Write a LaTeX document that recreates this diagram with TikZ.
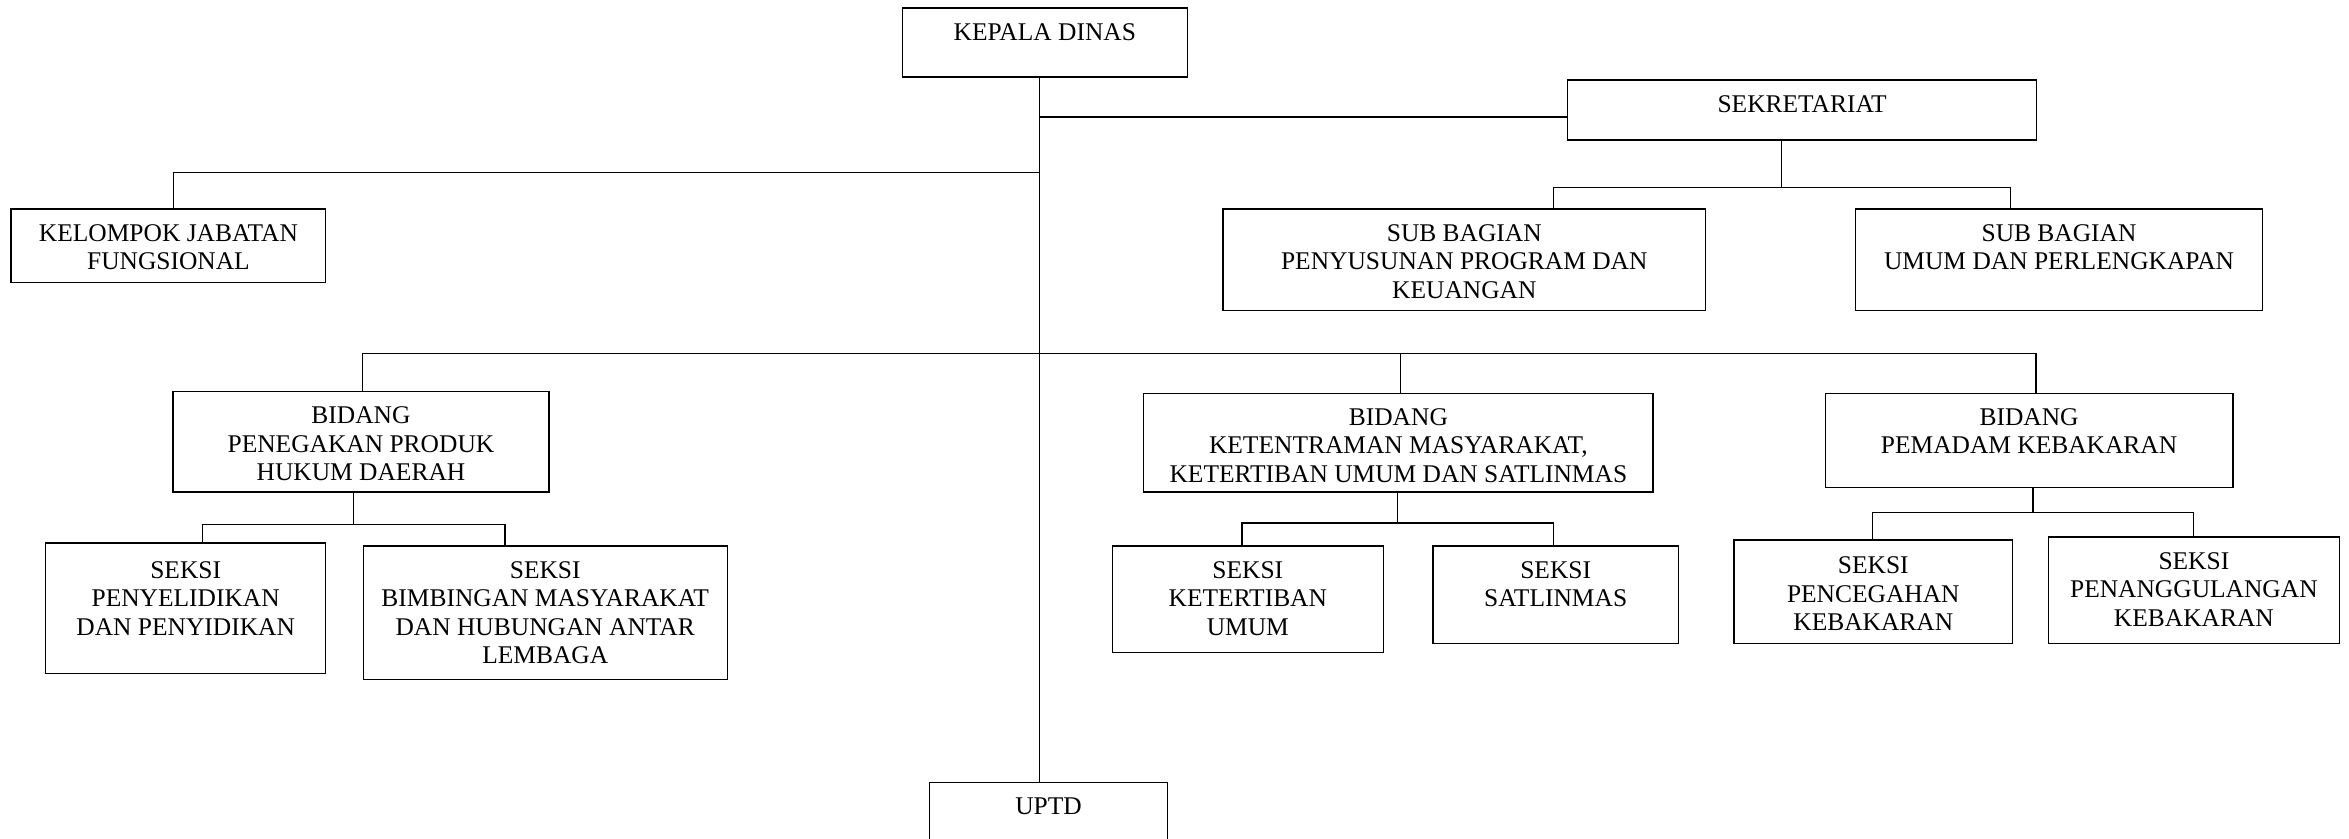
\documentclass[tikz,border=0pt]{standalone}
\usepackage{fontspec}
\setmainfont{Liberation Serif}
\usetikzlibrary{positioning}

\begin{document}
\begin{tikzpicture}[x=1pt, y=-1pt, line width=0.9pt,
  kotak/.style={draw, rectangle, inner sep=0pt, anchor=north west},
  teks/.style={inner sep=0pt, align=center, font=\fontsize{17}{19}\selectfont}]
\useasboundingbox (0,0) rectangle (1568,560);

% draw the boxes
\node[kotak, minimum width=190pt, minimum height=46pt] (kd) at (602,5) {};
\node[kotak, minimum width=313pt, minimum height=40pt] (sek) at (1046,53) {};
\node[kotak, minimum width=210pt, minimum height=49pt] (kjf) at (7,139) {};
\node[kotak, minimum width=322pt, minimum height=68pt] (sbp) at (816,139) {};
\node[kotak, minimum width=272pt, minimum height=68pt] (sbu) at (1238,139) {};
\node[kotak, minimum width=251pt, minimum height=67pt] (bph) at (115,261) {};
\node[kotak, minimum width=340pt, minimum height=66pt] (bkm) at (763,262) {};
\node[kotak, minimum width=272pt, minimum height=63pt] (bpk) at (1218,262) {};
\node[kotak, minimum width=187pt, minimum height=87pt] (spp) at (30,362) {};
\node[kotak, minimum width=243pt, minimum height=89pt] (sbm) at (242,364) {};
\node[kotak, minimum width=181pt, minimum height=71pt] (sku) at (742,364) {};
\node[kotak, minimum width=164pt, minimum height=65pt] (ssa) at (956,364) {};
\node[kotak, minimum width=186pt, minimum height=69pt] (spc) at (1157,360) {};
\node[kotak, minimum width=194pt, minimum height=71pt] (spk) at (1367,358) {};
\node[kotak, minimum width=159pt, minimum height=50pt] (uptd) at (620,522) {};

% draw the texts
\node[teks, below=10.3pt of kd.north] (kdt) {KEPALA DINAS};
\node[teks, below=10.3pt of sek.north] (sekt) {SEKRETARIAT};
\node[teks, below=10.3pt of kjf.north] (kjft) {KELOMPOK JABATAN\\FUNGSIONAL};
\node[teks, below=10.3pt of sbp.north] (sbpt) {SUB BAGIAN\\PENYUSUNAN PROGRAM DAN\\KEUANGAN};
\node[teks, below=10.3pt of sbu.north] (sbut) {SUB BAGIAN\\UMUM DAN PERLENGKAPAN};
\node[teks, below=10.3pt of bph.north] (bpht) {BIDANG\\PENEGAKAN PRODUK\\HUKUM DAERAH};
\node[teks, below=10.3pt of bkm.north] (bkmt) {BIDANG\\KETENTRAMAN MASYARAKAT,\\KETERTIBAN UMUM DAN SATLINMAS};
\node[teks, below=10.3pt of bpk.north] (bpkt) {BIDANG\\PEMADAM KEBAKARAN};
\node[teks, below=12.3pt of spp.north] (sppt) {SEKSI\\PENYELIDIKAN\\DAN PENYIDIKAN};
\node[teks, below=10.3pt of sbm.north] (sbmt) {SEKSI\\BIMBINGAN MASYARAKAT\\DAN HUBUNGAN ANTAR\\LEMBAGA};
\node[teks, below=10.3pt of sku.north] (skut) {SEKSI\\KETERTIBAN\\UMUM};
\node[teks, below=10.3pt of ssa.north] (ssat) {SEKSI\\SATLINMAS};
\node[teks, below=11.3pt of spc.north] (spct) {SEKSI\\PENCEGAHAN\\KEBAKARAN};
\node[teks, below=10.3pt of spk.north] (spkt) {SEKSI\\PENANGGULANGAN\\KEBAKARAN};
\node[teks, below=10.3pt of uptd.north] (uptdt) {UPTD};

% draw some points
\node[coordinate] (t1) at (694,78) {};
\node[coordinate] (t2) at (694,115) {};
\node[coordinate] (f1) at (116,115) {};

\node[coordinate] (s0) at (1189,125) {};
\node[coordinate] (s1) at (1037,125) {};
\node[coordinate] (s2) at (1342,125) {};

\node[coordinate] (b1) at (242,236) {};
\node[coordinate] (b2) at (935,236) {};
\node[coordinate] (b3) at (1359,236) {};

\node[coordinate] (p0) at (236,350) {};
\node[coordinate] (p1) at (135,350) {};
\node[coordinate] (p2) at (337,350) {};

\node[coordinate] (k0) at (933,349) {};
\node[coordinate] (k1) at (829,349) {};
\node[coordinate] (k2) at (1037,349) {};

\node[coordinate] (m0) at (1357,342) {};
\node[coordinate] (m1) at (1250,342) {};
\node[coordinate] (m2) at (1464,342) {};

% draw some lines
\draw (kd.south -| t1) -- (uptd.north -| t1);
\draw (t1) -- (t1 -| sek.west);
\draw (t2) -- (f1) -- (f1 |- kjf.north);

\draw (s0 |- sek.south) -- (s0);
\draw (s1 |- sbp.north) -- (s1) -- (s2) -- (s2 |- sbu.north);

\draw (b1 |- bph.north) -- (b1) -- (b3) -- (b3 |- bpk.north);
\draw (b2) -- (b2 |- bkm.north);

\draw (p0 |- bph.south) -- (p0);
\draw (p1 |- spp.north) -- (p1) -- (p2) -- (p2 |- sbm.north);

\draw (k0 |- bkm.south) -- (k0);
\draw (k1 |- sku.north) -- (k1) -- (k2) -- (k2 |- ssa.north);

\draw (m0 |- bpk.south) -- (m0);
\draw (m1 |- spc.north) -- (m1) -- (m2) -- (m2 |- spk.north);

\end{tikzpicture}
\end{document}
